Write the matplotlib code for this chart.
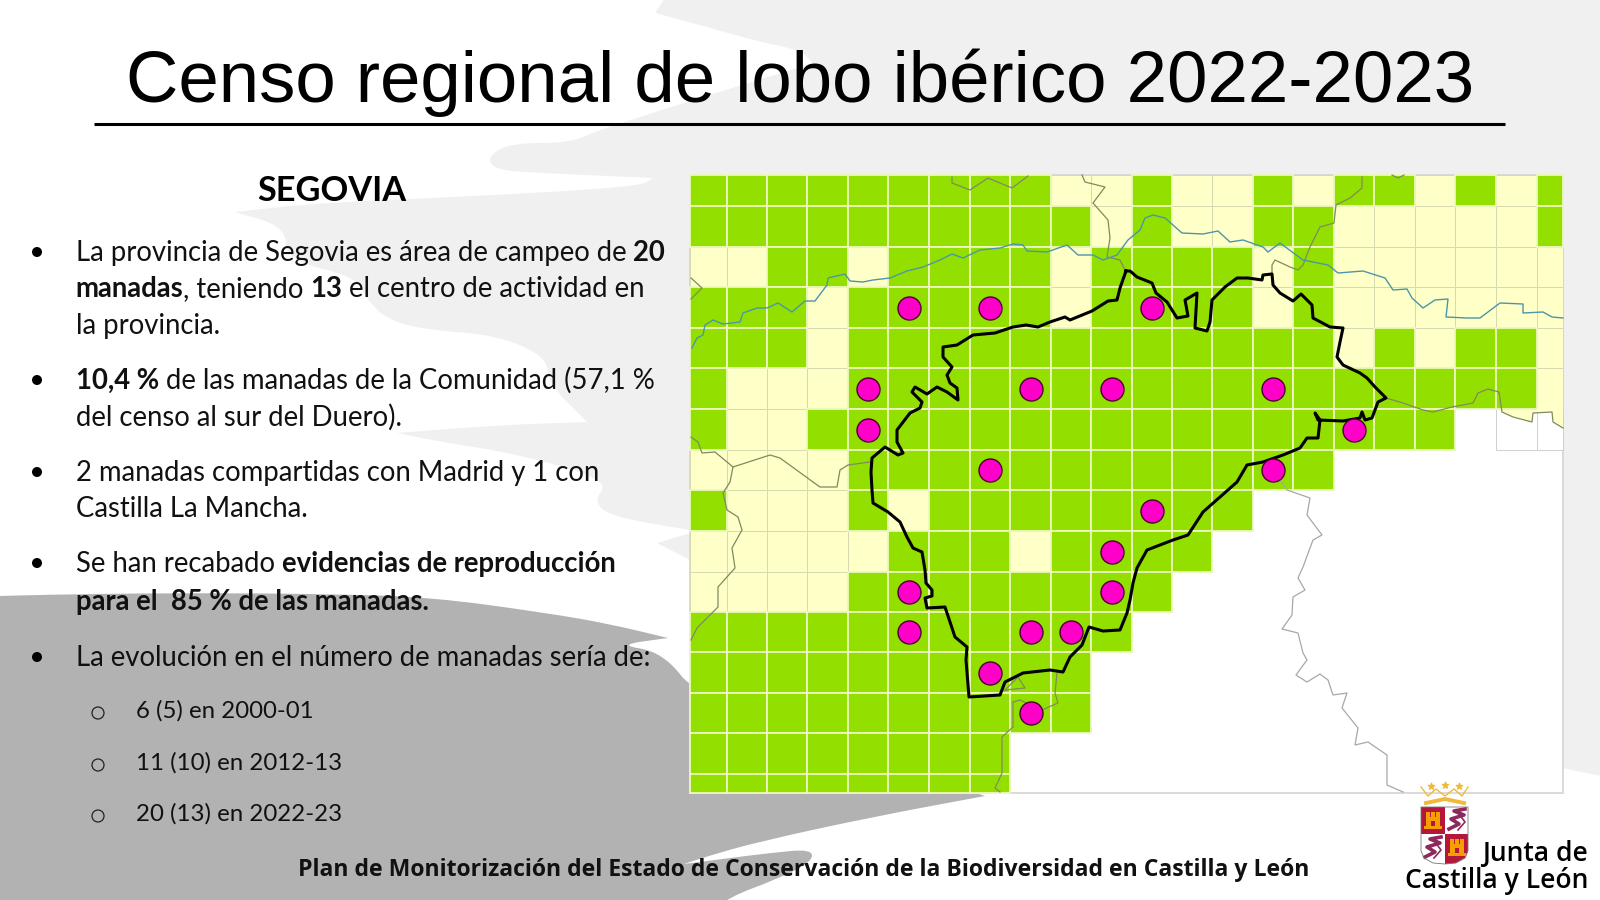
#!/usr/bin/env python3
"""Censo regional de lobo iberico 2022-2023, Segovia slide."""

import matplotlib
matplotlib.use("Agg")
import matplotlib.pyplot as plt
from matplotlib.patches import PathPatch, Polygon, Rectangle, Circle
from matplotlib.path import Path

W, H = 1600, 900

GREEN = "#93E000"
CREAM = "#FFFFC8"
GAP = "#EEF7C0"
PINK = "#FF00C8"
LIGHT = "#F0F0F0"
DARK = "#B2B2B2"

# Map grid, in slide pixels
col_edges = [690, 727, 767, 807, 848, 888, 929, 970, 1010, 1051, 1091, 1132,
             1172, 1212, 1253, 1293, 1334, 1374, 1415, 1455, 1496, 1537, 1563]
row_edges = [175, 206, 247, 287, 328, 368, 409, 450, 490, 531, 572, 612, 652,
             693, 733, 774, 793]

# G presence of wolves, Y surveyed with no presence, . outside the census, o empty box
grid_rows = [
    "GGGGGGGGGYYGYYGYGGYGYG",
    "GGGGGGGGGGYGYYGGYYYYYG",
    "YYGGYGGGGYGGGGYGYYYYYY",
    "GGGYGGGGGYGGGGYGYYYYYY",
    "GGGYGGGGGGGGGGGGYGYGGY",
    "GYYYGGGGGGGGGGGGGGGGGY",
    "GYYGGGGGGGGGGGGGGGG.oo",
    "YYYYGGGGGGGGGGGG......",
    "GYYYGYGGGGGGGG........",
    "YYYYYGGGYGGGG.........",
    "YYYYGGGGGGGG..........",
    "GGGGGGGGGGG...........",
    "GGGGGGGGGG............",
    "GGGGGGGGGG............",
    "GGGGGGGG..............",
    "GGGGGGGG..............",
]

# Cell of each of the 20 packs
pack_cols = [5, 7, 11, 4, 8, 10, 14, 4, 16, 7, 14, 11, 10, 5, 10, 5, 8, 9, 7, 8]
pack_rows = [3, 3, 3, 5, 5, 5, 5, 6, 6, 7, 7, 8, 9, 10, 10, 11, 11, 11, 12, 13]

segovia_x = [1126, 1120, 1117, 1108, 1092, 1070, 1065, 1050, 1038, 1026, 1013, 995, 973, 957, 943, 943, 952, 947, 950,
             957, 958, 947, 937, 927, 915, 912, 922, 920, 910, 897, 897, 903, 898, 885, 872, 871, 872, 873, 888, 900,
             907, 913, 922, 925, 926, 932, 932, 925, 927, 945, 950, 955, 967, 966, 969, 1000, 1005, 1023, 1050, 1063,
             1070, 1082, 1089, 1103, 1120, 1127, 1130, 1133, 1137, 1147, 1173, 1188, 1203, 1237, 1247, 1263, 1283, 1300,
             1307, 1318, 1320, 1315, 1318, 1343, 1360, 1362, 1365, 1372, 1378, 1386, 1375, 1367, 1360, 1343, 1337, 1340,
             1343, 1330, 1313, 1312, 1301, 1293, 1280, 1273, 1272, 1263, 1262, 1248, 1237, 1225, 1212, 1210, 1207, 1195,
             1197, 1185, 1188, 1177, 1167, 1156, 1152, 1137, 1130, 1126]
segovia_y = [271, 288, 300, 301, 311, 320, 317, 322, 327, 325, 327, 333, 335, 345, 347, 357, 367, 375, 383,
             388, 400, 392, 387, 394, 387, 392, 402, 408, 413, 430, 442, 453, 455, 447, 458, 472, 490, 503, 512, 522,
             537, 548, 552, 570, 583, 590, 596, 598, 608, 607, 622, 637, 647, 660, 697, 695, 682, 673, 670, 672,
             657, 645, 627, 631, 630, 613, 600, 583, 568, 550, 540, 535, 512, 482, 465, 462, 455, 448,
             438, 438, 420, 413, 420, 421, 418, 412, 420, 418, 402, 398, 387, 378, 373, 365, 357, 342,
             328, 327, 318, 305, 294, 301, 293, 285, 274, 275, 280, 278, 278, 287, 300, 322, 331, 328,
             293, 300, 316, 318, 302, 293, 283, 277, 271, 271]

duero_x = [692, 697, 703, 705, 713, 723, 740, 743, 757, 767, 778, 792, 805, 815, 827, 828, 845, 850, 863, 873, 890,
           907, 923, 940, 952, 963, 980, 1000, 1013, 1023, 1027, 1047, 1067, 1078, 1093, 1103, 1117, 1128, 1140, 1145,
           1153, 1165, 1182, 1203, 1218, 1230, 1243, 1263, 1268, 1280, 1303, 1313, 1328, 1338, 1363, 1385, 1393, 1407,
           1412, 1423, 1435, 1448, 1446, 1467, 1480, 1500, 1523, 1523, 1543, 1552, 1563]
duero_y = [348, 338, 335, 325, 320, 324, 322, 313, 308, 308, 303, 312, 301, 301, 285, 278, 274, 281, 282, 280, 278,
           271, 267, 260, 254, 258, 250, 248, 244, 245, 251, 252, 245, 255, 255, 260, 255, 240, 230, 218,
           215, 218, 233, 234, 231, 242, 240, 247, 252, 243, 260, 262, 265, 273, 271, 278, 290, 289,
           298, 308, 300, 299, 317, 318, 318, 303, 304, 313, 312, 317, 318]

# Province and region borders, one (x, y) list per stretch
border_a_x, border_a_y = [952, 952, 970, 988, 1012, 1028], [177, 183, 190, 178, 188, 176]
border_b_x = [1082, 1085, 1105, 1093, 1108, 1110, 1107, 1120, 1125]
border_b_y = [175, 182, 187, 203, 220, 238, 257, 260, 270]
border_c_x = [1362, 1362, 1350, 1336, 1334, 1320, 1310, 1303, 1298, 1290, 1275, 1272, 1272]
border_c_y = [177, 188, 198, 205, 223, 227, 247, 265, 270, 267, 260, 265, 274]
border_d_x, border_d_y = [1392, 1398, 1404], [175, 178, 175]
border_e_x = [1386, 1403, 1423, 1433, 1452, 1473, 1478, 1488, 1499, 1502, 1513, 1532, 1533, 1552, 1553, 1563]
border_e_y = [398, 403, 410, 412, 407, 403, 393, 389, 392, 412, 417, 422, 413, 412, 422, 428]
border_f_x, border_f_y = [691, 702, 691], [278, 288, 299]
border_g_x = [691, 698, 702, 715, 733, 730, 723, 727, 738, 742, 732, 735, 718, 718, 697, 691]
border_g_y = [437, 442, 453, 452, 467, 482, 493, 510, 517, 530, 548, 568, 587, 607, 628, 640]
border_h_x = [733, 770, 780, 813, 820, 837, 840, 848, 870]
border_h_y = [467, 455, 458, 482, 487, 487, 470, 465, 462]
border_i_x = [1057, 1055, 1058, 1042, 1030, 1020, 1013, 1013, 1002, 1002, 995, 1000]
border_i_y = [673, 693, 703, 710, 705, 700, 702, 727, 737, 773, 788, 792]
border_j_x, border_j_y = [1005, 1018, 1025, 1005], [690, 677, 688, 690]
border_k_x = [1273, 1287, 1310, 1307, 1322, 1313, 1303, 1298, 1305, 1293, 1292, 1282, 1298, 1303, 1307, 1296, 1307,
              1320, 1328, 1333, 1347, 1342, 1358, 1355, 1368, 1387, 1387, 1403]
border_k_y = [470, 490, 498, 515, 535, 540, 567, 578, 590, 597, 615, 629, 633, 653, 660, 675, 682,
              674, 680, 695, 693, 708, 728, 745, 742, 755, 785, 792]

# Background brush strokes; a repeated vertex keeps a sharp corner in the spline
light_x = [684, 1640, 1640, 1640, 1640, 1563, 700, 690, 657, 657, 690, 700, 690, 613, 593, 610, 513, 447, 397, 397, 500,
           587, 587, 548, 547, 497, 427, 388, 367, 357, 286, 286, 235, 235, 316, 459, 638, 653, 653, 541, 495, 487, 510,
           571, 597, 813, 813, 800, 760, 700, 655, 655]
light_y = [-30, -40, -40, 782, 782, 770, 565, 560, 543, 543, 533, 532, 530, 517, 502, 480, 453, 443, 433, 433, 425,
           422, 422, 383, 357, 335, 330, 320, 300, 277, 260, 227, 212, 212, 203, 197, 187, 178, 178, 173, 170, 157, 143,
           143, 130, 63, 63, 50, 42, 25, 13, 13]
dark_x = [-40, -40, 77, 204, 327, 430, 547, 610, 668, 668, 617, 663, 700, 985, 985, 872, 757, 705, 684, 684, 730, 770,
          812, 812, 775, 729, 700, 700, -40, -40]
dark_y = [597, 597, 594, 593, 594, 597, 613, 624, 638, 638, 645, 652, 700, 796, 796, 817, 842, 857, 864, 864, 858, 853,
          849, 862, 880, 897, 920, 920, 940, 940]

TITLE = "Censo regional de lobo ibérico 2022-2023"
PROVINCE = "SEGOVIA"
FOOTER = "Plan de Monitorización del Estado de Conservación de la Biodiversidad en Castilla y León"

# Text lines as (text, bold) runs, with the pixel height of each line
bullet_lines = [
    (252, True, [("La provincia de Segovia es área de campeo de ", False), ("20", True)]),
    (288, False, [("manadas", True), (", teniendo ", False), ("13", True), (" el centro de actividad en", False)]),
    (325, False, [("la provincia.", False)]),
    (380, True, [("10,4 %", True), (" de las manadas de la Comunidad (57,1 %", False)]),
    (417, False, [("del censo al sur del Duero).", False)]),
    (472, True, [("2 manadas compartidas con Madrid y 1 con", False)]),
    (508, False, [("Castilla La Mancha.", False)]),
    (563, True, [("Se han recabado ", False), ("evidencias de reproducción", True)]),
    (601, False, [("para el  85 % de las manadas.", True)]),
    (657, True, [("La evolución en el número de manadas sería de:", False)]),
]
sub_years = ["6 (5) en 2000-01", "11 (10) en 2012-13", "20 (13) en 2022-23"]
sub_y = [710, 762, 813]


def px(size):
    return size * 72 / 100


def brush(xs, ys, color, z):
    # closed quadratic spline through the midpoints, so the stroke edges stay round
    pts = list(zip(xs, ys))
    mids = [((a[0] + b[0]) / 2, (a[1] + b[1]) / 2) for a, b in zip(pts, pts[1:] + pts[:1])]
    verts = [mids[-1]]
    codes = [Path.MOVETO]
    for p, m in zip(pts, mids):
        verts += [p, m]
        codes += [Path.CURVE3, Path.CURVE3]
    return PathPatch(Path(verts, codes), fc=color, ec="none", zorder=z)


def castle(cx, cy):
    ax.add_patch(Rectangle((cx - 9, cy + 6), 18, 3, fc="#F5A000", ec="none", zorder=11))
    ax.add_patch(Rectangle((cx - 7, cy - 3), 14, 9, fc="#F5A000", ec="none", zorder=11))
    for dx in (-7, -2, 3):
        ax.add_patch(Rectangle((cx + dx, cy - 8), 4, 6, fc="#F5A000", ec="none", zorder=11))
    ax.add_patch(Rectangle((cx - 2, cy + 1), 4, 5, fc="#B5173A", ec="none", zorder=12))


def lion(cx, cy):
    ax.plot([cx - 8, cx + 2, cx - 6, cx + 7, cx - 3, cx + 8], [cy + 9, cy + 4, cy - 1, cy - 5, cy - 9, cy - 11],
            color="#8E2A5B", lw=2.6, zorder=11)
    ax.plot([cx + 1, cx + 8, cx + 2], [cy + 10, cy + 2, cy - 6], color="#8E2A5B", lw=1.2, zorder=11)


fig = plt.figure(figsize=(W / 100, H / 100), dpi=100, facecolor="white")
ax = fig.add_axes([0, 0, 1, 1])
ax.set_xlim(0, W)
ax.set_ylim(H, 0)
ax.axis("off")

ax.add_patch(brush(light_x, light_y, LIGHT, 1))
ax.add_patch(brush(dark_x, dark_y, DARK, 2))

# ---- map ----
ax.add_patch(Rectangle((col_edges[0], row_edges[0]), col_edges[-1] - col_edges[0], row_edges[-1] - row_edges[0],
                       fc="white", ec="#DADADA", lw=1.4, zorder=3))
for want, face, edge, lw, z in [("o", "white", "#CFCFCF", 0.7, 4), ("Y", CREAM, "#D9D9B0", 0.7, 4),
                                ("G", GREEN, GAP, 1.3, 5)]:
    for r, row in enumerate(grid_rows):
        for c, cell in enumerate(row):
            if cell == want:
                ax.add_patch(Rectangle((col_edges[c], row_edges[r]), col_edges[c + 1] - col_edges[c],
                                       row_edges[r + 1] - row_edges[r], fc=face, ec=edge, lw=lw, zorder=z))

# the two boxes at the east end are cream above the region border
sliver = list(zip(border_e_x[9:], border_e_y[9:])) + [(1563, 409), (1496, 409)]
ax.add_patch(Polygon(sliver, closed=True, fc=CREAM, ec="none", zorder=4))

borders = [(border_a_x, border_a_y), (border_b_x, border_b_y), (border_c_x, border_c_y), (border_d_x, border_d_y),
           (border_e_x, border_e_y), (border_f_x, border_f_y), (border_g_x, border_g_y), (border_h_x, border_h_y),
           (border_i_x, border_i_y), (border_j_x, border_j_y)]
for bx, by in borders:
    ax.plot(bx, by, color="#7F8A60", lw=0.9, zorder=6)
ax.plot(border_k_x, border_k_y, color="#A8A8A8", lw=0.9, zorder=6)
ax.plot(duero_x, duero_y, color="#4C96A8", lw=1.0, zorder=7)
ax.plot(segovia_x, segovia_y, color="black", lw=2.2, zorder=8)

pack_x = [(col_edges[c] + col_edges[c + 1]) / 2 for c in pack_cols]
pack_y = [(row_edges[r] + row_edges[r + 1]) / 2 for r in pack_rows]
ax.scatter(pack_x, pack_y, s=px(23) ** 2, c=PINK, edgecolors="#4A0030", linewidths=1.0, zorder=9)

# ---- text ----
ax.text(800, 102, TITLE, family="Liberation Sans", fontsize=px(72.6), ha="center", va="baseline", color="black", zorder=10)
ax.plot([94, 1505], [123.5, 123.5], color="black", lw=2.2, solid_capstyle="butt", zorder=10)
ax.text(332, 191, PROVINCE, family="Lato", weight="bold", fontsize=px(34.4), ha="center", va="center", zorder=10)

renderer = fig.canvas.get_renderer()
BODY = px(27.5)


def run_width(text, weight):
    # the bar keeps the trailing spaces in the measure
    probe = ax.text(0, 0, text + "|", family="Lato", weight=weight, fontsize=BODY)
    bar = ax.text(0, 0, "|", family="Lato", weight=weight, fontsize=BODY)
    w = probe.get_window_extent(renderer).width - bar.get_window_extent(renderer).width
    probe.remove()
    bar.remove()
    return w


for y, has_bullet, runs in bullet_lines:
    if has_bullet:
        ax.add_patch(Circle((37, y), 5, fc="black", ec="none", zorder=10))
    x = 75.5
    for text, bold in runs:
        weight = "bold" if bold else "normal"
        ax.text(x, y + 9, text, family="Lato", weight=weight, fontsize=BODY, va="baseline", color="#111111", zorder=10)
        x += run_width(text, weight)

for text, y in zip(sub_years, sub_y):
    ax.add_patch(Circle((98, y + 3), 6, fc="none", ec="#222222", lw=0.9, zorder=10))
    ax.text(135.5, y + 8, text, family="Lato", fontsize=px(24), va="baseline", color="#111111", zorder=10)

ax.text(298, 876, FOOTER, family="Open Sans", weight="bold", fontsize=px(23), va="baseline", color="#111111", zorder=10)

# ---- logo ----
ax.add_patch(Polygon([(1421, 807), (1445, 807), (1445, 834), (1421, 834)], fc="#B5173A", ec="none", zorder=10))
ax.add_patch(Polygon([(1445, 807), (1468, 807), (1468, 834), (1445, 834)], fc="white", ec="none", zorder=10))
ax.add_patch(Polygon([(1421, 834), (1445, 834), (1445, 864), (1433, 863), (1424, 858), (1421, 851)], fc="white", ec="none", zorder=10))
ax.add_patch(Polygon([(1445, 834), (1468, 834), (1468, 851), (1465, 858), (1456, 863), (1445, 864)], fc="#B5173A", ec="none", zorder=10))
castle(1433, 820)
castle(1457, 847)
lion(1457, 820)
lion(1433, 848)
ax.add_patch(Polygon([(1421, 807), (1468, 807), (1468, 851), (1465, 858), (1456, 863), (1445, 864), (1433, 863), (1424, 858), (1421, 851)],
                     fc="none", ec="#777777", lw=0.6, zorder=12))
ax.plot([1426, 1445, 1464], [803, 799, 803], color="#F0B93A", lw=2.8, zorder=10)
ax.plot([1421, 1428, 1436, 1445, 1454, 1462, 1468], [787, 796, 789, 796, 789, 796, 787], color="#F0B93A", lw=1.0, zorder=10)
ax.scatter([1431, 1445, 1459], [786, 785, 786], s=22, marker="*", c="#F0B93A", zorder=10)

ax.text(1588, 861, "Junta de", family="Open Sans", weight="semibold", fontsize=px(26.5), ha="right", va="baseline", zorder=10)
ax.text(1588, 888, "Castilla y León", family="Open Sans", weight="semibold", fontsize=px(26.5), ha="right", va="baseline", zorder=10)

fig.savefig("out.png", dpi=100)
plt.close("all")
